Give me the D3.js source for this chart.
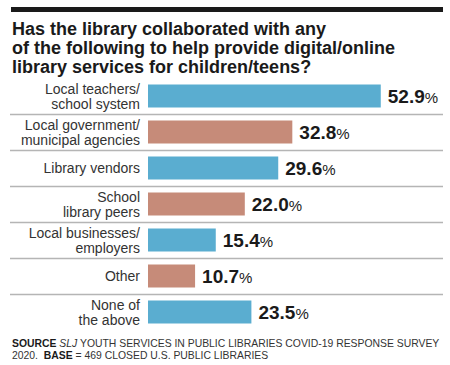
<!DOCTYPE html>
<html>
<head>
<meta charset="utf-8">
<script src="https://cdn.jsdelivr.net/npm/d3@7"></script>
<style>
  body { margin: 0; background: #fff; }
  svg { display: block; font-family: "Liberation Sans", Arial, Helvetica, sans-serif; }
</style>
</head>
<body>
<svg id="chart" width="450" height="365"></svg>
<script>
// categories as shown, one entry per label line
const categories = [
  ["Local teachers/", "school system"],
  ["Local government/", "municipal agencies"],
  ["Library vendors"],
  ["School", "library peers"],
  ["Local businesses/", "employers"],
  ["Other"],
  ["None of", "the above"]
];
const values = [52.9, 32.8, 29.6, 22.0, 15.4, 10.7, 23.5];
const colors = ["#5aadd0", "#c68b79"];
const titleLines = [
  "Has the library collaborated with any",
  "of the following to help provide digital/online",
  "library services for children/teens?"
];

const svg = d3.select("#chart");

// top rule
svg.append("rect")
  .attr("x", 11).attr("y", 7)
  .attr("width", 432).attr("height", 5)
  .attr("fill", "#1a1a1a");

// title
svg.append("text")
  .attr("x", 12)
  .attr("font-size", 18)
  .attr("font-weight", "bold")
  .attr("fill", "#1a1a1a")
  .selectAll("tspan")
  .data(titleLines)
  .enter()
  .append("tspan")
  .attr("x", 12)
  .attr("y", (d, i) => 35 + i * 19)
  .text(d => d);

const data = categories.map((c, i) => ({ id: i, lines: c, value: values[i] }));

const x = d3.scaleLinear().domain([0, 100]).range([148, 148 + 440]);
const y = d3.scaleBand()
  .domain(data.map(d => d.id))
  .range([78, 330])
  .paddingInner(0);
const barH = 23;

const g = svg.append("g");

// separator lines
g.selectAll(".sep")
  .data(data.slice(0, -1))
  .enter()
  .append("line")
  .attr("x1", 10).attr("x2", 443)
  .attr("y1", d => y(d.id) + y.bandwidth() + 0.5)
  .attr("y2", d => y(d.id) + y.bandwidth() + 0.5)
  .attr("stroke", "#b5b5b5")
  .attr("stroke-width", 1.5);

// bars
g.selectAll(".bar")
  .data(data)
  .enter()
  .append("rect")
  .attr("class", "bar")
  .attr("x", x(0))
  .attr("y", d => y(d.id) + (y.bandwidth() - barH) / 2)
  .attr("width", d => x(d.value) - x(0))
  .attr("height", barH)
  .attr("fill", (d, i) => colors[i % 2]);

// category labels
const labels = g.selectAll(".lab")
  .data(data)
  .enter()
  .append("text")
  .attr("class", "lab")
  .attr("text-anchor", "end")
  .attr("font-size", 14)
  .attr("fill", "#333");
labels.selectAll("tspan")
  .data(d => d.lines.map((l, j) => ({ l, j, n: d.lines.length, id: d.id })))
  .enter()
  .append("tspan")
  .attr("x", 140)
  .attr("y", d => y(d.id) + y.bandwidth() / 2 + 5 + (d.j - (d.n - 1) / 2) * 15)
  .text(d => d.l);

// value labels
const vals = g.selectAll(".val")
  .data(data)
  .enter()
  .append("text")
  .attr("class", "val")
  .attr("x", d => x(d.value) + 7)
  .attr("y", d => y(d.id) + y.bandwidth() / 2 + 7)
  .attr("fill", "#1a1a1a");
vals.append("tspan")
  .attr("font-size", 19)
  .attr("font-weight", "bold")
  .text(d => d.value.toFixed(1));
vals.append("tspan")
  .attr("font-size", 15)
  .text("%");

// footer
const foot1 = svg.append("text")
  .attr("x", 12).attr("y", 347)
  .attr("font-size", 10.4)
  .attr("fill", "#333");
foot1.append("tspan").attr("font-weight", "bold").attr("fill", "#1a1a1a").text("SOURCE ");
foot1.append("tspan").attr("font-style", "italic").text("SLJ");
foot1.append("tspan").text(" YOUTH SERVICES IN PUBLIC LIBRARIES COVID-19 RESPONSE SURVEY");

const foot2 = svg.append("text")
  .attr("x", 12).attr("y", 359)
  .attr("font-size", 10.4)
  .attr("fill", "#333");
foot2.append("tspan").text("2020.\u00a0\u00a0");
foot2.append("tspan").attr("font-weight", "bold").attr("fill", "#1a1a1a").text("BASE");
foot2.append("tspan").text(" = 469 CLOSED U.S. PUBLIC LIBRARIES");
</script>
</body>
</html>
